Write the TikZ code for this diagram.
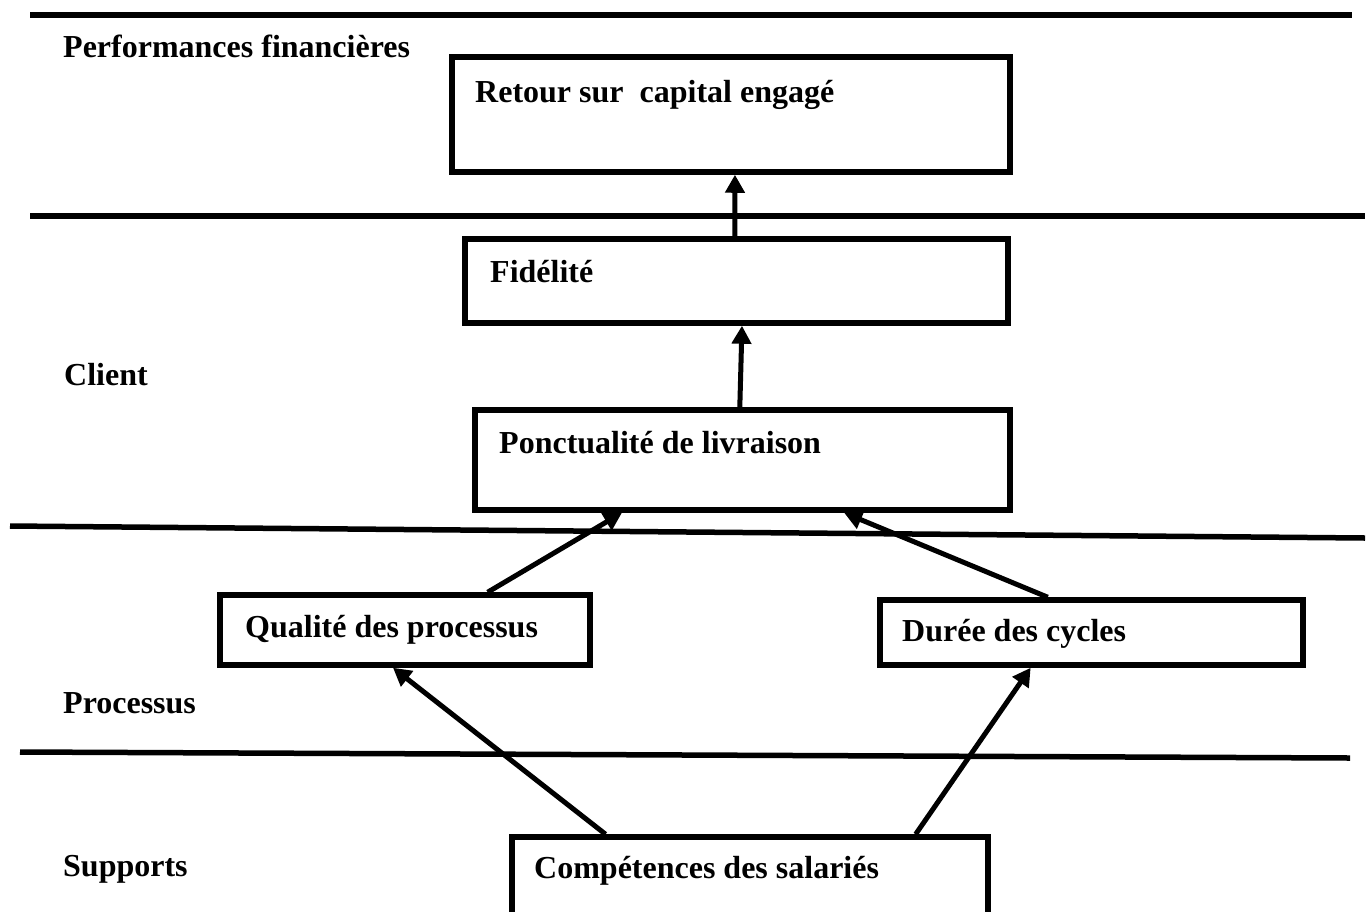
\documentclass[tikz,border=0pt]{standalone}
\usepackage{fontspec}
\setmainfont{Liberation Serif}
\usetikzlibrary{arrows.meta,calc}
\tikzset{
  box/.style={draw=black, line width=5.5pt, inner sep=0pt, rectangle, fill=white},
  lbl/.style={anchor=base west, inner sep=0pt, font=\fontsize{32}{38}\selectfont\bfseries},
  divider/.style={line width=5.5pt, line cap=butt},
  arr/.style={line width=5pt, -{Triangle[length=18pt,width=19pt]}}
}
\begin{document}
\begin{tikzpicture}[x=1pt,y=-1pt]
\useasboundingbox (0,0) rectangle (1367,911);
\clip (0,0) rectangle (1367,911);
\fill[white] (0,0) rectangle (1367,911);

% dividers
\draw[divider] (30,15) -- (1352,15);
\draw[divider] (30,216) -- (1365,216);
\draw[divider] (10,526) -- (1365,538);
\draw[divider] (20,752) -- (1350,758);

% boxes
\node[box, minimum width=558pt, minimum height=115pt] (ret) at (731,114.5) {};
\node[box, minimum width=543pt, minimum height=84pt] (fid) at (736.5,281) {};
\node[box, minimum width=535pt, minimum height=100pt] (pon) at (742.5,460) {};
\node[box, minimum width=370pt, minimum height=70pt] (qua) at (405,630) {};
\node[box, minimum width=423pt, minimum height=65pt] (dur) at (1091.5,632.5) {};
\node[box, minimum width=476pt, minimum height=123pt] (com) at (750,898.5) {};

% texts
\node[lbl] (tperf) at (63,57) {Performances financières};
\node[lbl] (tcli) at (64,385) {Client};
\node[lbl] (tpro) at (63,713) {Processus};
\node[lbl] (tsup) at (63,876) {Supports};
\node[lbl] (tret) at (475,102) {Retour sur\ \ capital engagé};
\node[lbl] (tfid) at (490,282) {Fidélité};
\node[lbl] (tpon) at (499,453) {Ponctualité de livraison};
\node[lbl] (tqua) at (245,637) {Qualité des processus};
\node[lbl] (tdur) at (902,641) {Durée des cycles};
\node[lbl] (tcom) at (534,878) {Compétences des salariés};

% arrows
\draw[arr] ($(fid.north west)!0.497!(fid.north east)$) -- ($(ret.south west)!0.507!(ret.south east)$);
\draw[arr] ($(pon.north west)!0.495!(pon.north east)$) -- ($(fid.south west)!0.51!(fid.south east)$);
\draw[arr] ($(qua.north west)!0.72!(qua.north east)$) -- ($(pon.south west)!0.277!(pon.south east)$);
\draw[arr] ($(dur.north west)!0.398!(dur.north east)$) -- ($(pon.south west)!0.688!(pon.south east)$);
\draw[arr] ($(com.north west)!0.2!(com.north east)$) -- ($(qua.south west)!0.468!(qua.south east)$);
\draw[arr] ($(com.north west)!0.844!(com.north east)$) -- ($(dur.south west)!0.358!(dur.south east)$);
\end{tikzpicture}
\end{document}
